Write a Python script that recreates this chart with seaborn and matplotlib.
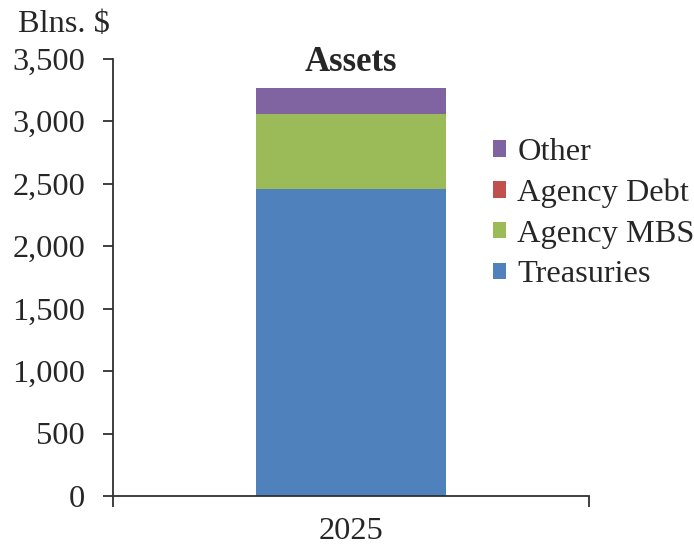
import matplotlib
matplotlib.use("Agg")
import matplotlib.pyplot as plt
import seaborn as sns
import pandas as pd
import numpy as np
from matplotlib.patches import Patch

categories = ["2025"]
series_names = ["Treasuries", "Agency MBS", "Agency Debt", "Other"]
treasuries = [2456]
agency_mbs = [602]
agency_debt = [2]
other = [206]
colors = ["#4F81BD", "#9BBB59", "#C0504D", "#8064A2"]
yticks = [0, 500, 1000, 1500, 2000, 2500, 3000, 3500]

sns.set_theme(style="white")
plt.rcParams["font.family"] = ["Liberation Serif", "DejaVu Serif"]

FS = 23.3

fig = plt.figure(figsize=(6.94, 5.51), dpi=100)
ax = fig.add_axes([113/694, 1-496/551, (589-113)/694, (496-58.5)/551])

vals = np.array([treasuries, agency_mbs, agency_debt, other], dtype=float)
cum = np.cumsum(vals, axis=0)
# draw cumulative bars from the top down so they stack
for i in range(len(series_names) - 1, -1, -1):
    df = pd.DataFrame({"year": categories, "value": cum[i]})
    sns.barplot(data=df, x="year", y="value", color=colors[i], width=0.4,
                saturation=1, ax=ax, edgecolor="none", linewidth=0)

ax.set_xlim(-0.5, 0.5)
ax.set_ylim(0, 3500)
ax.set_yticks(yticks)
ax.set_yticklabels([f"{v:,}" for v in yticks], fontsize=FS)
ax.set_xlabel("")
ax.set_ylabel("")
ax.set_xticks([0])
ax.set_xticklabels(categories, fontsize=FS)
ax.set_xticks([-0.5, 0.5], minor=True)
ax.tick_params(axis="x", which="major", length=0, pad=15)
ax.tick_params(axis="x", which="minor", length=8, width=1.3, color="#303030", direction="out", bottom=True)
ax.tick_params(axis="y", which="major", length=7, width=1.3, color="#303030", direction="out", left=True, pad=13)

for s in ["top", "right"]:
    ax.spines[s].set_visible(False)
for s in ["left", "bottom"]:
    ax.spines[s].set_color("#303030")
    ax.spines[s].set_linewidth(1.3)

ax.text(0, 3470, "Assets", ha="center", va="center", fontsize=25, fontweight="bold")
fig.text(18/694, 1-24/551, "Blns. $", ha="left", va="center", fontsize=FS)

handles = [Patch(facecolor=colors[i], edgecolor="none", label=series_names[i]) for i in range(3, -1, -1)]
leg = fig.legend(handles=handles, loc="upper left", bbox_to_anchor=(493/694, 1-138/551),
                 frameon=False, fontsize=FS, handlelength=0.4, handleheight=0.4,
                 handletextpad=0.35, labelspacing=0.36, borderaxespad=0, borderpad=0)

fig.savefig("out.png", dpi=100)
